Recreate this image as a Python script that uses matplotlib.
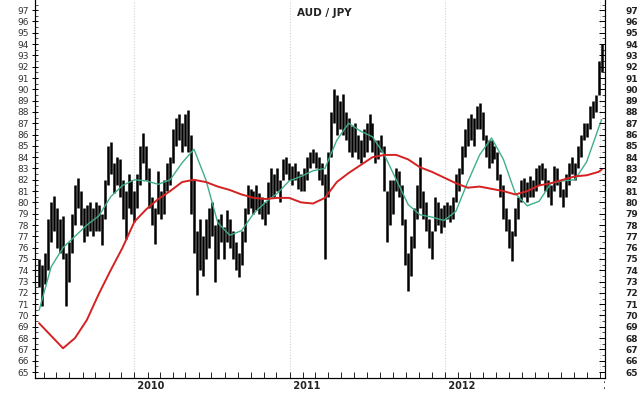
import numpy as np
import pandas as pd
import matplotlib
matplotlib.use("Agg")
import matplotlib.pyplot as plt
import matplotlib.dates as mdates
from matplotlib.transforms import Bbox

# weekly price ranges (AUD/JPY)
week_start = "2009-05-22"
week_high = [
    75.0, 74.5, 75.5, 78.5, 80.0, 80.6, 79.5, 78.5, 78.8, 75.5,
    76.5, 79.0, 81.5, 82.2, 81.0, 79.5, 79.8, 80.0, 79.5, 80.0,
    79.8, 79.0, 82.0, 85.0, 85.3, 83.5, 84.0, 83.8, 82.0, 81.0,
    82.5, 82.0, 81.0, 82.5, 85.0, 86.1, 85.0, 83.0, 80.5, 79.5,
    82.8, 81.0, 82.0, 83.5, 84.0, 86.5, 87.5, 87.8, 87.0, 87.8,
    88.2, 86.0, 82.0, 77.5, 78.5, 77.0, 78.5, 79.5, 80.0, 78.0,
    78.5, 79.0, 77.8, 79.3, 78.5, 77.5, 76.5, 75.5, 77.5, 79.5,
    81.5, 81.2, 81.0, 81.5, 80.8, 80.5, 80.0, 81.8, 83.0, 82.5,
    83.0, 82.0, 83.8, 84.0, 83.5, 83.2, 83.5, 82.8, 82.5, 83.0,
    84.0, 84.5, 84.7, 84.5, 84.0, 83.5, 82.5, 84.5, 88.0, 90.0,
    89.5, 89.0, 89.6, 88.0, 87.5, 86.8, 87.0, 86.0, 85.5, 86.5,
    87.0, 87.8, 87.0, 85.5, 85.5, 86.0, 85.0, 81.0, 82.0, 82.0,
    83.0, 82.8, 81.5, 78.5, 75.5, 77.0, 79.5, 81.5, 84.0, 81.0,
    80.0, 78.5, 77.5, 80.5, 80.0, 79.5, 79.8, 80.0, 79.8, 80.5,
    82.5, 83.0, 85.0, 86.5, 87.5, 87.8, 87.5, 88.5, 88.8, 88.0,
    86.0, 85.5, 85.5, 85.0, 84.5, 82.5, 81.5, 79.5, 78.5, 77.5,
    79.5, 80.5, 82.0, 82.2, 81.8, 82.3, 82.0, 83.0, 83.3, 83.5,
    83.0, 82.0, 81.5, 83.2, 83.0, 82.0, 81.2, 82.5, 83.5, 84.0,
    83.5, 85.0, 86.0, 87.0, 87.0, 88.5, 89.0, 89.5, 92.5, 94.0,
]
week_low = [
    72.5, 70.8, 72.8, 74.0, 76.5, 77.5, 76.0, 75.5, 75.0, 70.8,
    73.0, 75.5, 78.0, 79.5, 78.0, 76.5, 77.0, 77.5, 77.0, 77.5,
    77.5, 76.2, 78.5, 81.5, 82.5, 80.8, 81.5, 80.5, 78.5, 76.8,
    79.5, 79.0, 78.3, 79.5, 81.5, 83.5, 82.0, 79.5, 78.0, 76.3,
    79.0, 78.5, 79.0, 81.0, 81.5, 83.5, 85.0, 85.5, 84.5, 85.0,
    84.5, 79.0, 75.5, 71.8, 74.0, 73.5, 75.0, 76.0, 77.0, 73.0,
    75.0, 76.5, 75.0, 76.5, 76.0, 75.0, 74.0, 73.4, 74.5, 76.5,
    79.0, 79.5, 79.0, 79.3, 79.0, 78.5, 78.0, 79.0, 80.5, 80.5,
    81.0, 80.0, 82.0, 82.5, 82.0, 81.5, 82.0, 81.2, 81.0, 81.0,
    82.0, 83.0, 83.5, 83.0, 82.0, 81.5, 75.0, 80.5, 84.0, 87.0,
    86.0, 86.5, 86.0, 85.5, 84.5, 84.0, 84.5, 83.8, 83.5, 84.0,
    84.5, 85.5, 84.5, 83.5, 83.8, 84.5, 81.0, 76.5, 78.0, 79.0,
    81.0, 80.5, 78.0, 74.5, 72.2, 73.5, 76.0, 78.5, 79.5, 78.5,
    77.5, 76.0, 75.0, 77.5, 78.0, 77.3, 77.8, 78.5, 78.3, 78.5,
    80.0, 81.0, 82.5, 84.0, 85.0, 85.5, 85.0, 86.5, 86.5, 85.5,
    84.0, 83.0, 83.5, 83.8, 82.0, 80.5, 78.5, 77.5, 76.0, 74.8,
    77.0, 78.5, 80.0, 80.5, 80.0, 80.5, 80.5, 81.0, 81.5, 82.0,
    81.0, 80.5, 79.8, 81.0, 81.5, 80.5, 79.6, 80.5, 81.5, 82.5,
    82.0, 83.0, 84.0, 85.5, 85.8, 86.5, 87.5, 88.0, 89.5, 91.5,
]

# moving averages sampled every 4th week (plus the last one)
ma_week_idx = list(range(0, 190, 4)) + [189]
ma_short = [
    70.5, 74.3, 76.0, 77.0, 78.0, 78.8, 80.5, 81.5, 82.0, 81.9,
    81.6, 82.0, 83.5, 84.7, 82.0, 78.2, 77.1, 77.5, 79.0, 80.0,
    80.8, 81.9, 82.3, 82.8, 83.0, 85.5, 87.0, 86.3, 85.8, 84.2,
    82.0, 79.8, 78.9, 78.7, 78.4, 79.2, 81.8, 84.2, 85.7, 83.8,
    80.8, 79.7, 80.1, 81.7, 81.9, 82.0, 83.6, 86.6, 87.3,
]
ma_long = [
    69.3, 68.2, 67.1, 68.0, 69.6, 71.9, 74.0, 76.0, 78.3, 79.4,
    80.3, 81.0, 81.8, 82.0, 81.8, 81.4, 81.1, 80.7, 80.4, 80.3,
    80.4, 80.4, 80.0, 79.9, 80.4, 81.8, 82.6, 83.3, 84.0, 84.2,
    84.2, 83.8, 83.1, 82.7, 82.2, 81.7, 81.3, 81.4, 81.2, 81.0,
    80.7, 81.0, 81.5, 81.7, 82.0, 82.3, 82.4, 82.7, 82.9,
]

years = ["2010", "2011", "2012", "2013"]

weeks = pd.date_range(week_start, periods=len(week_high), freq="7D")
ma_dates = weeks[ma_week_idx]

fig = plt.figure(figsize=(6.4, 3.96), dpi=100)
ax = fig.add_axes([35 / 640, 1 - 378 / 396, 570 / 640, 378 / 396])

# year separators
for y in years:
    ax.axvline(pd.Timestamp(y + "-01-01"), color="#d0d0d0", lw=0.8, ls=(0, (1, 1.5)), zorder=0)

ax.vlines(weeks, week_low, week_high, color="black", lw=1.8, zorder=2)
ax.plot(ma_dates, ma_short, color="#3fae8c", lw=1.0, zorder=3)
ax.plot(ma_dates, ma_long, color="#d42222", lw=1.4, zorder=4)

ax.set_xlim(pd.Timestamp("2009-05-12"), pd.Timestamp("2013-01-12"))
ylim = (64.47, 97.9)
ax.set_ylim(ylim)

# left y axis
ax.set_yticks(range(65, 98))
ax.set_yticks(np.arange(65.5, 97.6, 1.0), minor=True)
ax.tick_params(axis="y", which="major", direction="inout", length=5, width=0.7,
               labelsize=6.5, left=True, right=False, pad=2, labelcolor="#333333")
ax.tick_params(axis="y", which="minor", direction="in", length=2, width=0.5,
               left=True, right=False)

# right y axis
ax2 = ax.twinx()
ax2.set_ylim(ylim)
ax2.set_yticks(range(65, 98))
ax2.set_yticks(np.arange(65.5, 97.6, 1.0), minor=True)
ax2.tick_params(axis="y", which="major", direction="in", length=4, width=0.7,
                labelsize=6.5, pad=15, labelcolor="#222222")
ax2.tick_params(axis="y", which="minor", direction="in", length=2, width=0.5)
for lab in ax2.get_yticklabels():
    lab.set_fontweight("bold")

# x axis: monthly ticks, year labels
ax.xaxis.set_major_locator(mdates.MonthLocator())
ax.xaxis.set_major_formatter(plt.NullFormatter())
ax.tick_params(axis="x", which="major", direction="in", length=4, width=0.6, top=False)

for a in (ax, ax2):
    for spine in a.spines.values():
        spine.set_linewidth(0.8)
    a.spines["top"].set_visible(False)

clip = Bbox.from_extents(0, 0, 605, 396)
for y in years:
    t = ax.text(pd.Timestamp(y + "-01-01"), -0.008, " " + y, transform=ax.get_xaxis_transform(),
                ha="left", va="top", fontsize=7, fontweight="bold", color="#222222")
    t.set_clip_box(clip)
    t.set_clip_on(True)

fig.text(297 / 640, 1 - 13 / 396, "AUD / JPY", ha="left", va="center",
         fontsize=7.5, fontweight="bold", color="#222222")

fig.savefig("out.png", dpi=100, facecolor="white")
